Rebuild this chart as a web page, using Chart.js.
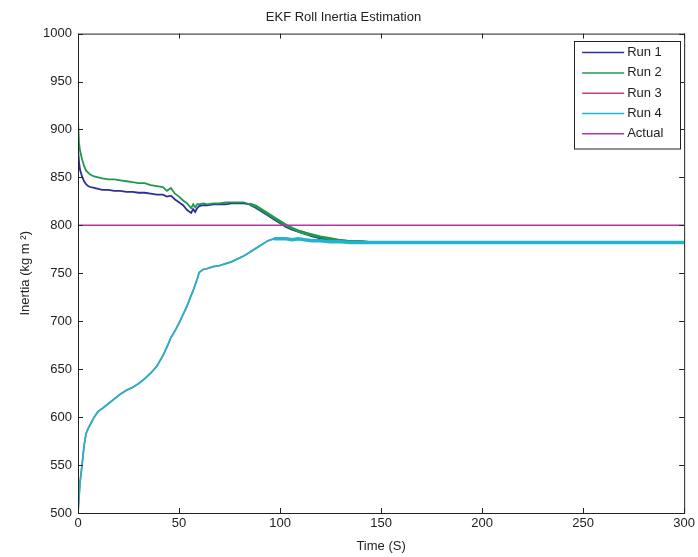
<!DOCTYPE html>
<html>
<head>
<meta charset="utf-8">
<title>EKF Roll Inertia Estimation</title>
<script src="https://cdn.jsdelivr.net/npm/chart.js@4.4.0/dist/chart.umd.min.js"></script>
<style>
  html, body { margin: 0; padding: 0; background: #fff; }
</style>
</head>
<body>
<canvas id="inertia" width="698" height="557"></canvas>
<script>
// time axis (s) shared by the runs
var timeS = [0, 0.5, 1, 2, 3, 4, 5, 6, 8, 10,
  12, 15, 18, 21, 24, 27, 30, 33, 36, 39,
  42, 44, 46, 48, 50, 52, 54, 56, 57, 58,
  59, 60, 62, 64, 67, 70, 73, 76, 79, 82,
  85, 88, 91, 94, 97, 100, 103, 106, 109, 112,
  116, 120, 125, 130, 135, 140, 145, 150, 160, 170,
  180, 190, 200, 210, 220, 230, 240, 250, 260, 270,
  280, 290, 300];

var run1 = [880, 866, 858, 851, 846, 843, 841, 840, 839, 838,
  837, 837, 836, 836, 835, 835, 834, 834, 833, 832,
  832, 830, 831, 827, 824, 821, 816, 813, 817, 814,
  818, 820, 821, 821, 822, 822, 822, 823, 823, 823,
  822, 819, 815, 811, 807, 803, 799, 796, 794, 792,
  789, 787, 785, 784, 783, 783, 782, 782, 782, 782,
  782, 782, 782, 782, 782, 782, 782, 782, 782, 782,
  782, 782, 782];

var run2 = [910, 886, 878, 869, 862, 857, 855, 853, 851, 850,
  849, 848, 848, 847, 846, 845, 844, 844, 842, 841,
  840, 836, 839, 833, 830, 826, 823, 818, 822, 819,
  822, 822, 823, 822, 823, 823, 824, 824, 824, 824,
  822, 820, 816, 812, 808, 804, 800, 797, 794, 792,
  790, 788, 786, 784, 783, 783, 782, 782, 782, 782,
  782, 782, 782, 782, 782, 782, 782, 782, 782, 782,
  782, 782, 782];

var run4 = [500, 516, 532, 550, 570, 583, 588, 592, 600, 606,
  609, 614, 619, 624, 628, 631, 635, 640, 646, 653,
  664, 673, 683, 690, 698, 707, 716, 727, 732, 738,
  744, 751, 754, 755, 757, 758, 760, 762, 765, 768,
  772, 776, 780, 784, 786, 786, 786, 785, 786, 785,
  784, 784, 783, 783, 782, 782, 782, 782, 782, 782,
  782, 782, 782, 782, 782, 782, 782, 782, 782, 782,
  782, 782, 782];

// run 3 sits under run 4 in the plot
var run3 = run4.slice();

var actualTime = [0, 300];
var actualValue = [800, 800];

var runLabels = ['Run 1', 'Run 2', 'Run 3', 'Run 4', 'Actual'];
var runColors = ['#2c2f98', '#1f9a4c', '#c8406e', '#22b4cc', '#b2379f'];

function toPoints(xs, ys) {
  return xs.map(function(x, i) { return {x: x, y: ys[i]}; });
}

// thicker band where the estimate is noisy at steady state
function bandWidth(from, wide) {
  return function(c) { return c.p0.parsed.x >= from ? wide : 1.8; };
}

var font13 = {family: '"Liberation Sans", Arial, sans-serif', size: 13};

// axes box with inward ticks on all four sides
var frameTicks = {
  id: 'frameTicks',
  afterDatasetsDraw: function(chart) {
    var ctx = chart.ctx, a = chart.chartArea;
    var xs = chart.scales.x, ys = chart.scales.y;
    var len = 5;
    ctx.save();
    ctx.strokeStyle = '#222';
    ctx.lineWidth = 1;
    ctx.strokeRect(a.left + 0.5, a.top + 0.5, a.right - a.left, a.bottom - a.top);
    ctx.beginPath();
    xs.ticks.forEach(function(t) {
      var px = Math.round(xs.getPixelForValue(t.value)) + 0.5;
      ctx.moveTo(px, a.bottom); ctx.lineTo(px, a.bottom - len);
      ctx.moveTo(px, a.top); ctx.lineTo(px, a.top + len);
    });
    ys.ticks.forEach(function(t) {
      var py = Math.round(ys.getPixelForValue(t.value)) + 0.5;
      ctx.moveTo(a.left, py); ctx.lineTo(a.left + len, py);
      ctx.moveTo(a.right, py); ctx.lineTo(a.right - len, py);
    });
    ctx.stroke();
    ctx.restore();
  }
};

// boxed legend in the upper right corner of the axes
var boxLegend = {
  id: 'boxLegend',
  afterDraw: function(chart) {
    var ctx = chart.ctx, a = chart.chartArea;
    var w = 106, rowH = 20.3;
    var h = rowH * runLabels.length + 6;
    var x0 = a.right - 4 - w, y0 = a.top + 7;
    ctx.save();
    ctx.fillStyle = '#fff';
    ctx.fillRect(x0, y0, w, h);
    ctx.strokeStyle = '#222';
    ctx.lineWidth = 1;
    ctx.strokeRect(Math.round(x0) + 0.5, Math.round(y0) + 0.5, w, h);
    ctx.font = '13px "Liberation Sans", Arial, sans-serif';
    ctx.textBaseline = 'middle';
    ctx.textAlign = 'left';
    runLabels.forEach(function(lbl, i) {
      var y = y0 + 12 + i * rowH;
      ctx.strokeStyle = runColors[i];
      ctx.lineWidth = 1.5;
      ctx.beginPath();
      ctx.moveTo(x0 + 8, y);
      ctx.lineTo(x0 + 50, y);
      ctx.stroke();
      ctx.fillStyle = '#222';
      ctx.fillText(lbl, x0 + 53, y);
    });
    ctx.restore();
  }
};

var ctx = document.getElementById('inertia').getContext('2d');

var chart = new Chart(ctx, {
  type: 'line',
  data: {
    datasets: [{
      label: runLabels[0],
      data: toPoints(timeS, run1),
      borderColor: runColors[0],
      segment: {borderWidth: bandWidth(85, 3)},
      order: 4
    }, {
      label: runLabels[1],
      data: toPoints(timeS, run2),
      borderColor: runColors[1],
      segment: {borderWidth: bandWidth(85, 3)},
      order: 3
    }, {
      label: runLabels[2],
      data: toPoints(timeS, run3),
      borderColor: runColors[2],
      order: 2
    }, {
      label: runLabels[3],
      data: toPoints(timeS, run4),
      borderColor: runColors[3],
      segment: {borderWidth: bandWidth(95, 3.5)},
      order: 1
    }, {
      label: runLabels[4],
      data: toPoints(actualTime, actualValue),
      borderColor: runColors[4],
      borderWidth: 1.5,
      order: 0
    }]
  },
  options: {
    responsive: false,
    animation: false,
    events: [],
    elements: {
      point: {radius: 0},
      line: {borderWidth: 1.5, tension: 0}
    },
    layout: {
      autoPadding: false,
      padding: {left: 0, right: 11, top: 0, bottom: 0}
    },
    plugins: {
      legend: {display: false},
      tooltip: {enabled: false},
      title: {
        display: true,
        text: 'EKF Roll Inertia Estimation',
        color: '#222',
        font: {family: font13.family, size: 13, weight: 'normal'},
        padding: {top: 10, bottom: 8}
      }
    },
    scales: {
      x: {
        type: 'linear',
        min: 0,
        max: 300,
        ticks: {stepSize: 50, color: '#222', font: font13, padding: 3, maxRotation: 0},
        grid: {display: false, drawTicks: false},
        border: {display: false},
        title: {display: true, text: 'Time (S)', color: '#222', font: font13, padding: {top: 0, bottom: 3}},
        afterFit: function(s) { s.height = 44; }
      },
      y: {
        min: 500,
        max: 1000,
        ticks: {
          stepSize: 50, color: '#222', font: font13, padding: 6,
          callback: function(v) { return String(v); }
        },
        grid: {display: false, drawTicks: false},
        border: {display: false},
        title: {display: true, text: 'Inertia (kg m ²)', color: '#222', font: font13, padding: {top: 18, bottom: 0}},
        afterFit: function(s) { s.width = 78; }
      }
    }
  },
  plugins: [frameTicks, boxLegend]
});
</script>
</body>
</html>
